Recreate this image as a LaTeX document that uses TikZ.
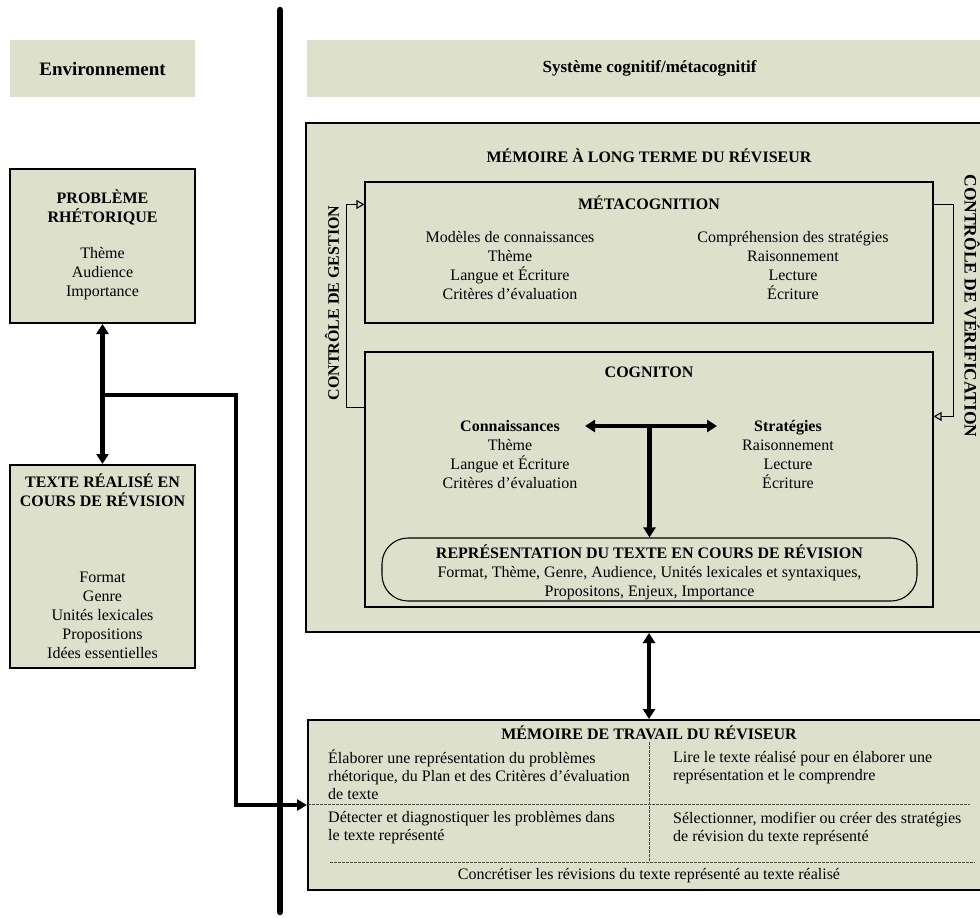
\documentclass[tikz,border=0pt]{standalone}
\usepackage{fontspec}
\setmainfont{Liberation Serif}
\usetikzlibrary{arrows.meta}
\definecolor{boxfill}{RGB}{221,225,204}

\tikzset{
  box/.style={draw, line width=2pt, fill=boxfill, inner sep=0pt},
  inbox/.style={draw, line width=1.1pt, fill=boxfill, inner sep=0pt},
  headbox/.style={fill=boxfill, inner sep=0pt, font=\bfseries\fontsize{17}{20}\selectfont},
  txt/.style={font=\fontsize{16}{19}\selectfont, align=center, inner sep=0pt},
  ltxt/.style={font=\fontsize{16}{18}\selectfont, align=left, inner sep=0pt, anchor=west},
  ttl/.style={font=\bfseries\fontsize{16}{19}\selectfont, align=center, inner sep=0pt},
  bigarrow/.style={line width=4.5pt, {Triangle[length=10pt,width=12pt]}-{Triangle[length=10pt,width=12pt]}},
  onearrow/.style={line width=4.5pt, -{Triangle[length=10pt,width=12pt]}},
  branch/.style={line width=3.3pt, -{Triangle[length=10pt,width=11pt]}},
  ctrl/.style={line width=1.1pt, -{Triangle[open,length=8pt,width=9pt]}},
  sep/.style={line width=0.6pt, gray!60!black, dash pattern=on 2.5pt off 1.5pt}
}

\begin{document}
\begin{tikzpicture}[x=1pt, y=-1pt]
\useasboundingbox (0,0) rectangle (980,918);
\clip (0,0) rectangle (980,918);

% headers
\node[headbox, minimum width=185pt, minimum height=57pt, font=\bfseries\fontsize{19}{22}\selectfont] (envhead) at (102.5,68.5) {Environnement};
\node[headbox, minimum width=685pt, minimum height=57pt] (syshead) at (649.5,68.5) {Système cognitif/métacognitif};

% environment side
\node[box, minimum width=185pt, minimum height=154pt] (prob) at (102.5,246) {};
\node[ttl] (probttl) at (102.5,207) {PROBLÈME\\RHÉTORIQUE};
\node[txt] (probitems) at (102.5,274) {Thème\\Audience\\Importance};

\node[box, minimum width=185pt, minimum height=203pt] (texte) at (102.5,566.5) {};
\node[ttl] (textettl) at (102.5,490) {TEXTE RÉALISÉ EN\\COURS DE RÉVISION};
\node[txt] (texteitems) at (102.5,615) {Format\\Genre\\Unités lexicales\\Propositions\\Idées essentielles};

% long term memory
\node[box, minimum width=686pt, minimum height=509pt] (lt) at (649,377.5) {};
\node[ttl] (ltttl) at (649,156) {MÉMOIRE À LONG TERME DU RÉVISEUR};

\node[inbox, minimum width=568pt, minimum height=141pt] (meta) at (649,252.5) {};
\node[ttl] (metattl) at (649,203) {MÉTACOGNITION};
\node[txt] (metaleft) at (510,266) {Modèles de connaissances\\Thème\\Langue et Écriture\\Critères d’évaluation};
\node[txt] (metaright) at (793,266) {Compréhension des stratégies\\Raisonnement\\Lecture\\Écriture};

\node[inbox, minimum width=568pt, minimum height=255pt] (cogn) at (649,479.5) {};
\node[ttl] (cognttl) at (649,372) {COGNITON};
\node[txt] (connais) at (510,455) {\textbf{Connaissances}\\Thème\\Langue et Écriture\\Critères d’évaluation};
\node[txt] (strat) at (788,455) {\textbf{Stratégies}\\Raisonnement\\Lecture\\Écriture};

\node[inbox, rounded corners=26pt, minimum width=535pt, minimum height=63pt] (repr) at (649.5,569.5) {};
\node[txt] (reprtxt) at (649.5,572) {\textbf{REPRÉSENTATION DU TEXTE EN COURS DE RÉVISION}\\Format, Thème, Genre, Audience, Unités lexicales et syntaxiques,\\Propositons, Enjeux, Importance};

\node[ttl, rotate=90] (gestion) at (332,303) {CONTRÔLE DE GESTION};
\node[ttl, rotate=-90, font=\bfseries\fontsize{17.5}{20}\selectfont] (verif) at (972,306) {CONTRÔLE DE VÉRIFICATION};

% working memory
\node[box, minimum width=682pt, minimum height=170pt] (travail) at (649,805) {};
\node[ttl] (travailttl) at (649,733) {MÉMOIRE DE TRAVAIL DU RÉVISEUR};
\draw[sep] (308,804) -- (970,804);
\draw[sep] (330,862) -- (975,862);
\draw[sep] (649,742) -- (649,862);
\node[ltxt] (elab) at (328,775) {Élaborer une représentation du problèmes\\rhétorique, du Plan et des Critères d’évaluation\\de texte};
\node[ltxt] (lire) at (673,768) {Lire le texte réalisé pour en élaborer une\\représentation et le comprendre};
\node[ltxt] (detect) at (328,828) {Détecter et diagnostiquer les problèmes dans\\le texte représenté};
\node[ltxt] (select) at (673,829) {Sélectionner, modifier ou créer des stratégies\\de révision du texte représenté};
\node[txt] (concret) at (649,876) {Concrétiser les révisions du texte représenté au texte réalisé};

% connectors
\coordinate (split) at (102.5,395);
\coordinate (tl) at (585,426);
\coordinate (tr) at (717,426);
\coordinate (tee) at (649.5,426);
\coordinate (divtop) at (280,10);
\coordinate (divbot) at (280,912);

\draw[bigarrow] (prob.south) -- (texte.north);
\draw[branch] (split) -- ++(133.5,0) |- (travail.west);
\draw[line width=6.5pt, line cap=round] (divtop) -- (divbot);
\draw[bigarrow] (tl) -- (tr);
\draw[onearrow] (tee) -- (repr.north);
\draw[bigarrow] (lt.south) -- (travail.north);
\draw[ctrl] ([yshift=-56pt]cogn.north west) -- ++(-18,0) |- ([yshift=-23pt]meta.north west);
\draw[ctrl] ([yshift=-23pt]meta.north east) -- ++(20,0) |- ([yshift=-65pt]cogn.north east);
\end{tikzpicture}
\end{document}
